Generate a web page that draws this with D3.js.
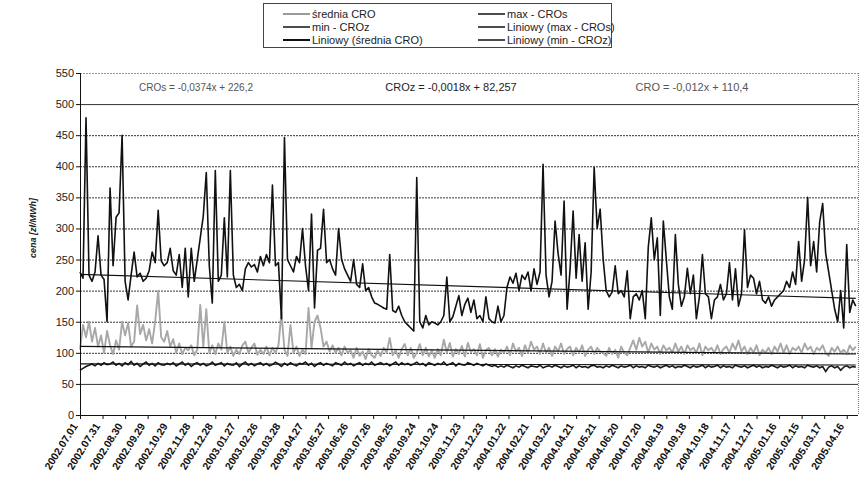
<!DOCTYPE html>
<html>
<head>
<meta charset="utf-8">
<script src="https://cdn.jsdelivr.net/npm/d3@7"></script>
<style>
  html, body { margin: 0; padding: 0; background: #fff; }
  svg { display: block; }
  text { font-family: "Liberation Sans", Arial, sans-serif; }
</style>
</head>
<body>
<svg id="chart" width="868" height="481"></svg>
<script>
// Daily prices sampled every STEP_DAYS days, starting 2002.07.01
const START = "2002.07.01";
const STEP_DAYS = 4;
const TOTAL_DAYS = 1035;

// max - CROs
const maxCROs = [
  230, 220, 478, 225, 215, 230, 288, 225, 218, 150,
  365, 240, 318, 325, 450, 215, 185, 225, 262, 222,
  228, 215, 220, 232, 262, 245, 329, 248, 240, 245,
  268, 232, 225, 258, 205, 268, 190, 268, 215, 250,
  285, 320, 390, 240, 180, 393, 215, 225, 317, 222,
  393, 225, 205, 210, 200, 235, 245, 238, 242, 230,
  255, 240, 258, 245, 370, 240, 245, 155, 446, 250,
  240, 230, 255, 245, 300, 240, 200, 323, 172, 265,
  268, 331, 245, 250, 235, 225, 300, 250, 235, 225,
  215, 250, 210, 205, 243, 200, 205, 190, 180, 178,
  175, 172, 170, 258, 168, 165, 175, 160, 150, 145,
  140, 135, 382, 150, 140, 160, 145, 150, 148, 145,
  150, 160, 222, 150, 158, 175, 192, 160, 178, 188,
  165, 185, 155, 160, 150, 190, 155, 150, 148, 175,
  150, 160, 205, 222, 212, 228, 200, 225, 218, 230,
  200, 235, 210, 230, 403, 225, 190, 215, 312, 260,
  225, 344, 170, 235, 328, 220, 290, 215, 277, 170,
  230, 398, 300, 331, 250, 200, 190, 198, 240, 195,
  200, 190, 232, 155, 190, 195, 185, 200, 155, 270,
  317, 250, 285, 160, 312, 250, 190, 170, 290, 210,
  175, 190, 236, 195, 225, 155, 190, 258, 195, 190,
  155, 185, 190, 210, 185, 195, 245, 185, 235, 175,
  195, 298, 205, 225, 220, 195, 215, 185, 180, 190,
  175, 185, 190, 195, 200, 215, 205, 230, 210, 279,
  215, 250, 350, 240, 279, 230, 310, 340, 260, 230,
  200, 170, 150, 200, 140, 274, 165, 185, 175
];

// średnia CRO
const avgCRO = [
  105, 145, 125, 150, 118, 140, 110, 128, 100, 135,
  112, 98, 120, 105, 150, 128, 148, 110, 118, 176,
  130, 145, 120, 138, 115, 150, 200, 125, 118, 135,
  110, 122, 100, 115, 98, 108, 104, 112, 96, 105,
  177, 110, 170, 100, 112, 98, 115, 105, 150, 100,
  110, 95, 105, 98, 112, 118, 100, 108, 115, 97,
  105, 98, 110, 96, 108, 100, 112, 165, 105, 95,
  145, 100, 110, 95, 105, 98, 172, 108, 150, 160,
  140, 110, 118, 102, 112, 100, 108, 96, 110, 100,
  104, 92, 108, 95, 102, 90, 106, 96, 92, 104,
  95, 108, 100, 124, 96, 104, 92, 106, 114, 96,
  108, 92, 100, 114, 96, 108, 94, 104, 92, 106,
  96, 121, 100, 116, 94, 106, 98, 111, 94, 116,
  101, 106, 96, 114, 92, 104, 108, 96, 106, 94,
  105, 100, 110, 96, 115, 102, 108, 95, 112, 100,
  118, 105, 110, 98, 115, 100, 108, 95, 110, 102,
  115, 98, 106, 110, 96, 108, 100, 112, 95, 105,
  110, 98, 108, 102, 100, 95, 108, 98, 105, 92,
  110, 100, 96, 108, 120, 105, 124, 110, 118, 100,
  115, 105, 110, 98, 112, 104, 108, 100, 115, 102,
  110, 98, 112, 104, 108, 100, 115, 96, 110, 104,
  108, 100, 112, 98, 106, 110, 100, 115, 105, 120,
  102, 110, 98, 108, 100, 112, 96, 105, 100, 108,
  98, 110, 102, 115, 100, 112, 98, 108, 104, 110,
  100, 115, 105, 110, 98, 108, 104, 112, 100, 95,
  108, 102, 110, 100, 105, 98, 112, 104, 110
];

// min - CROz
const minCROz = [
  72, 75, 78, 80, 82, 79, 83, 80, 84, 81,
  82, 85, 80, 83, 79, 84, 81, 86, 80, 83,
  78, 82, 85, 80, 83, 79, 84, 81, 80, 83,
  81, 84, 79, 82, 85, 80, 83, 78, 82, 84,
  80, 83, 79, 81, 85, 80, 82, 84, 79, 83,
  81, 80, 84, 78, 82, 85, 80, 83, 79, 82,
  84, 80, 83, 79, 81, 85, 82, 78, 83, 80,
  84, 81, 79, 83, 82, 85, 80, 83, 78, 82,
  84, 80, 83, 81, 79, 84, 82, 80, 85, 81,
  83, 79, 82, 84, 80, 83, 81, 85, 80, 82,
  84, 81, 83, 79, 82, 85, 80, 84, 81, 83,
  80, 82, 85, 81, 83, 79, 84, 82, 80, 83,
  81, 85, 80, 82, 84, 79, 83, 81, 80, 84,
  82, 80, 83, 81, 79, 82, 80, 78, 80, 77,
  79, 77, 80, 78, 76, 79, 77, 80, 78, 76,
  79, 78, 77, 80, 76, 78, 79, 77, 80, 78,
  76, 79, 77, 78, 80, 76, 79, 77, 78, 76,
  79, 80, 77, 78, 76, 79, 77, 80, 78, 76,
  79, 77, 78, 80, 76, 79, 77, 78, 76, 80,
  78, 77, 79, 76, 78, 80, 77, 79, 76, 78,
  77, 80, 78, 76, 79, 77, 78, 80, 76, 79,
  77, 78, 80, 76, 79, 77, 78, 76, 80, 78,
  77, 79, 76, 78, 80, 77, 79, 76, 78, 77,
  80, 78, 76, 79, 77, 78, 80, 76, 79, 77,
  78, 76, 80, 78, 77, 79, 76, 78, 70, 77,
  79, 76, 78, 72, 77, 79, 76, 78, 77
];

// Linear trends: y = slope * x + intercept, x = day number (1..)
const trendSlopes = [-0.0374, -0.0018, -0.012];
const trendIntercepts = [226.2, 82.257, 110.4];
const trendLabels = [
  "CROs = -0,0374x + 226,2",
  "CROz = -0,0018x + 82,257",
  "CRO = -0,012x + 110,4"
];

const xTickLabels = [
  "2002.07.01","2002.07.31","2002.08.30","2002.09.29","2002.10.29","2002.11.28",
  "2002.12.28","2003.01.27","2003.02.26","2003.03.28","2003.04.27","2003.05.27",
  "2003.06.26","2003.07.26","2003.08.25","2003.09.24","2003.10.24","2003.11.23",
  "2003.12.23","2004.01.22","2004.02.21","2004.03.22","2004.04.21","2004.05.21",
  "2004.06.20","2004.07.20","2004.08.19","2004.09.18","2004.10.18","2004.11.17",
  "2004.12.17","2005.01.16","2005.02.15","2005.03.17","2005.04.16"
];
const yTickValues = [0, 50, 100, 150, 200, 250, 300, 350, 400, 450, 500, 550];

const legendItems = [
  { name: "średnia CRO", color: "#9a9a9a", width: 2 },
  { name: "min - CROz", color: "#111", width: 1.5 },
  { name: "Liniowy (średnia CRO)", color: "#111", width: 2 },
  { name: "max - CROs", color: "#111", width: 1.5 },
  { name: "Liniowy (max - CROs)", color: "#111", width: 1.5 },
  { name: "Liniowy (min - CROz)", color: "#111", width: 1.5 }
];

// ---- layout ----
const plot = { left: 80, right: 858, top: 73, bottom: 415 };
const parse = d3.utcParse("%Y.%m.%d");
const t0 = parse(START);

const x = d3.scaleUtc()
  .domain([t0, d3.utcDay.offset(t0, TOTAL_DAYS)])
  .range([plot.left, plot.right]);
const y = d3.scaleLinear().domain([0, 550]).range([plot.bottom, plot.top]);

const svg = d3.select("#chart");

// horizontal gridlines
svg.append("g").selectAll("line")
  .data(yTickValues.filter(v => v > 0))
  .join("line")
  .attr("x1", plot.left).attr("x2", plot.right)
  .attr("y1", d => y(d) + 0.5).attr("y2", d => y(d) + 0.5)
  .attr("stroke", d => d === 550 ? "#999" : "#333")
  .attr("stroke-width", 1)
  .attr("stroke-dasharray", d => (d === 50 || d === 500) ? null : "2,1");

// right border of the plot area
svg.append("line")
  .attr("x1", plot.right + 0.5).attr("x2", plot.right + 0.5)
  .attr("y1", plot.top).attr("y2", plot.bottom)
  .attr("stroke", "#777").attr("stroke-dasharray", "1,1");

const series = (values) => values.map((v, i) => ({ date: d3.utcDay.offset(t0, i * STEP_DAYS), v }));
const line = d3.line().x(d => x(d.date)).y(d => y(d.v));

svg.append("path").datum(series(avgCRO))
  .attr("d", line).attr("fill", "none")
  .attr("stroke", "#a8a8a8").attr("stroke-width", 1.9).attr("stroke-linejoin", "round");

svg.append("path").datum(series(minCROz))
  .attr("d", line).attr("fill", "none")
  .attr("stroke", "#1a1a1a").attr("stroke-width", 1.6);

svg.append("path").datum(series(maxCROs))
  .attr("d", line).attr("fill", "none")
  .attr("stroke", "#111").attr("stroke-width", 1.6).attr("stroke-linejoin", "round");

// trend lines
const lastDay = (maxCROs.length - 1) * STEP_DAYS + 1;
trendSlopes.forEach((s, k) => {
  const pts = [1, lastDay].map(dn => ({ date: d3.utcDay.offset(t0, dn - 1), v: s * dn + trendIntercepts[k] }));
  svg.append("path").datum(pts)
    .attr("d", line).attr("fill", "none")
    .attr("stroke", "#111").attr("stroke-width", 1.1);
});

// trend equations
const eqX = [196, 451, 692];
const eqSize = [10, 11, 11];
const eqFill = ["#555", "#222", "#555"];
svg.append("g").selectAll("text")
  .data(trendLabels)
  .join("text")
  .attr("x", (d, i) => eqX[i]).attr("y", 91)
  .attr("text-anchor", "middle")
  .attr("font-size", (d, i) => eqSize[i])
  .attr("fill", (d, i) => eqFill[i])
  .text(d => d);

// y axis
svg.append("line")
  .attr("x1", plot.left + 0.5).attr("x2", plot.left + 0.5)
  .attr("y1", plot.top).attr("y2", plot.bottom)
  .attr("stroke", "#111");
svg.append("g").selectAll("line")
  .data(yTickValues).join("line")
  .attr("x1", plot.left - 4).attr("x2", plot.left)
  .attr("y1", d => y(d) + 0.5).attr("y2", d => y(d) + 0.5)
  .attr("stroke", "#111");
svg.append("g").selectAll("text")
  .data(yTickValues).join("text")
  .attr("x", plot.left - 6).attr("y", d => y(d) + 4)
  .attr("text-anchor", "end")
  .attr("font-size", 11).attr("fill", "#222")
  .text(d => d);

svg.append("text")
  .attr("transform", "translate(36,228) rotate(-90)")
  .attr("text-anchor", "middle")
  .attr("font-size", 9).attr("font-weight", "bold").attr("font-style", "italic")
  .attr("fill", "#222")
  .text("cena [zł/MWh]");

// x axis
svg.append("line")
  .attr("x1", plot.left).attr("x2", plot.right)
  .attr("y1", plot.bottom + 0.5).attr("y2", plot.bottom + 0.5)
  .attr("stroke", "#111");
const tickDates = xTickLabels.map(parse);
svg.append("g").selectAll("line")
  .data(tickDates).join("line")
  .attr("x1", d => x(d) + 0.5).attr("x2", d => x(d) + 0.5)
  .attr("y1", plot.bottom).attr("y2", plot.bottom + 4)
  .attr("stroke", "#111");
svg.append("g").selectAll("text")
  .data(xTickLabels).join("text")
  .attr("transform", d => `translate(${x(parse(d)) - 2},${plot.bottom + 11}) rotate(-58)`)
  .attr("text-anchor", "end")
  .attr("font-size", 10.5).attr("font-weight", "bold").attr("fill", "#111")
  .text(d => d);

// legend
const lg = svg.append("g");
lg.append("rect")
  .attr("x", 263.5).attr("y", 3.5).attr("width", 348).attr("height", 44)
  .attr("fill", "#fff").attr("stroke", "#444");
const lgItems = lg.selectAll("g.item").data(legendItems).join("g")
  .attr("transform", (d, i) => `translate(${i < 3 ? 283 : 478},${14 + (i % 3) * 13})`);
lgItems.append("line")
  .attr("x1", 0).attr("x2", 27).attr("y1", 0).attr("y2", 0)
  .attr("stroke", d => d.color).attr("stroke-width", d => d.width);
lgItems.append("text")
  .attr("x", 29).attr("y", 4)
  .attr("font-size", 11).attr("fill", "#222")
  .text(d => d.name);
</script>
</body>
</html>
